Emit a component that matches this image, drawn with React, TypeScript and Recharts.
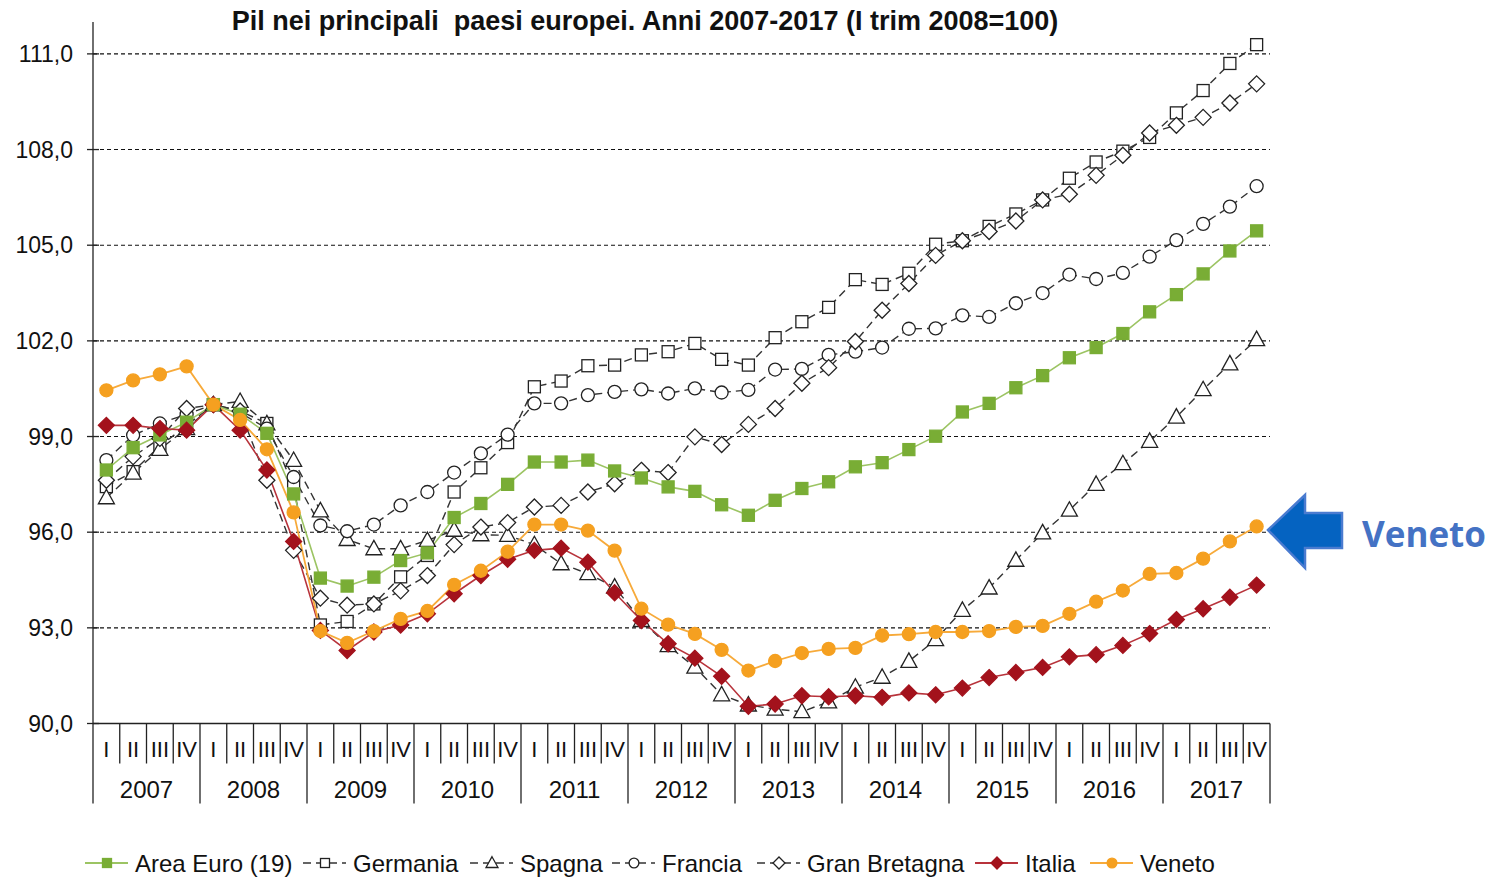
import React from "react";
import { LineChart, Line, XAxis, YAxis, CartesianGrid } from "recharts";

// Quarters 2007-I .. 2017-IV, index I trim 2008 = 100
const years = [2007, 2008, 2009, 2010, 2011, 2012, 2013, 2014, 2015, 2016, 2017];
const quarters = ["I", "II", "III", "IV"];
const yTicks = [90, 93, 96, 99, 102, 105, 108, 111];

const areaEuro = [
  97.95, 98.65, 99.05, 99.45, 100, 99.7, 99.1, 97.2, 94.56, 94.31, 94.59,
  95.11, 95.35, 96.46, 96.9, 97.5, 98.2, 98.2, 98.26, 97.92, 97.7, 97.42,
  97.28, 96.86, 96.53, 97.0, 97.37, 97.58, 98.05, 98.18, 98.59, 99.01, 99.77,
  100.04, 100.53, 100.91, 101.47, 101.79, 102.23, 102.91, 103.45, 104.1,
  104.82, 105.45,
];
const germania = [
  97.43, 97.9, 98.7, 99.35, 100, 99.8, 99.41, 97.43, 93.09, 93.2, 93.75, 94.6,
  95.27, 97.26, 98.02, 98.81, 100.56, 100.74, 101.22, 101.24, 101.56, 101.66,
  101.92, 101.42, 101.24, 102.1, 102.6, 103.05, 103.92, 103.77, 104.12,
  105.03, 105.14, 105.59, 105.98, 106.42, 107.1, 107.61, 107.95, 108.38,
  109.15, 109.85, 110.7, 111.29,
];
const spagna = [
  97.08, 97.85, 98.6, 99.25, 100, 100.1, 99.4, 98.25, 96.67, 95.77, 95.48,
  95.48, 95.74, 96.06, 95.92, 95.9, 95.61, 95.01, 94.7, 94.28, 93.23, 92.44,
  91.77, 90.9, 90.58, 90.45, 90.37, 90.68, 91.14, 91.45, 91.95, 92.63, 93.55,
  94.25, 95.12, 95.98, 96.69, 97.5, 98.15, 98.85, 99.61, 100.47, 101.28,
  102.04,
];
const francia = [
  98.26, 99.04, 99.41, 99.7, 100, 99.75, 99.25, 97.73, 96.21, 96.03, 96.24,
  96.84, 97.26, 97.87, 98.47, 99.06, 100.04, 100.04, 100.3, 100.4, 100.48,
  100.35, 100.51, 100.38, 100.46, 101.1, 101.12, 101.56, 101.66, 101.79,
  102.38, 102.39, 102.8, 102.75, 103.18, 103.5, 104.08, 103.94, 104.13,
  104.64, 105.16, 105.67, 106.21, 106.85,
];
const granBretagna = [
  97.63, 98.37, 98.94, 99.88, 100, 99.8, 97.63, 95.43, 93.93, 93.71, 93.75,
  94.16, 94.64, 95.61, 96.16, 96.3, 96.79, 96.84, 97.26, 97.52, 97.94, 97.87,
  98.99, 98.75, 99.38, 99.88, 100.67, 101.16, 101.98, 102.96, 103.8, 104.68,
  105.14, 105.43, 105.76, 106.42, 106.6, 107.19, 107.82, 108.52, 108.76,
  109.01, 109.46, 110.06,
];
const italia = [
  99.35, 99.35, 99.25, 99.2, 100, 99.2, 97.95, 95.71, 92.92, 92.29, 92.87,
  93.09, 93.44, 94.07, 94.64, 95.15, 95.43, 95.5, 95.06, 94.1, 93.23, 92.5,
  92.05, 91.48, 90.54, 90.61, 90.87, 90.84, 90.87, 90.82, 90.96, 90.9, 91.11,
  91.44, 91.6, 91.76, 92.09, 92.16, 92.45, 92.82, 93.26, 93.6, 93.96, 94.34,
];
const veneto = [
  100.45, 100.76, 100.95, 101.2, 100, 99.52, 98.6, 96.62, 92.9, 92.53, 92.9,
  93.28, 93.53, 94.35, 94.79, 95.39, 96.24, 96.24, 96.05, 95.42, 93.6, 93.1,
  92.81, 92.31, 91.66, 91.96, 92.21, 92.34, 92.37, 92.76, 92.8, 92.87, 92.87,
  92.9, 93.03, 93.06, 93.44, 93.82, 94.17, 94.69, 94.72, 95.17, 95.71, 96.18,
];

const rows = years.flatMap((year, yi) =>
  quarters.map((q, qi) => {
    const i = yi * 4 + qi;
    return {
      key: `${q} ${year}`,
      q,
      qi,
      year,
      areaEuro: areaEuro[i],
      germania: germania[i],
      spagna: spagna[i],
      francia: francia[i],
      granBretagna: granBretagna[i],
      italia: italia[i],
      veneto: veneto[i],
    };
  })
);

type Shape = "square" | "circle" | "triangle" | "diamond";

interface SeriesStyle {
  key: string;
  name: string;
  shape: Shape;
  stroke: string;
  markFill: string;
  markStroke: string;
  size: number;
  width: number;
  dashed: boolean;
}

// drawing order: dashed black series first, coloured on top
const series: SeriesStyle[] = [
  { key: "germania", name: "Germania", shape: "square", stroke: "#333", markFill: "#fff", markStroke: "#222", size: 12, width: 1.4, dashed: true },
  { key: "spagna", name: "Spagna", shape: "triangle", stroke: "#333", markFill: "#fff", markStroke: "#222", size: 16, width: 1.4, dashed: true },
  { key: "francia", name: "Francia", shape: "circle", stroke: "#333", markFill: "#fff", markStroke: "#222", size: 13, width: 1.4, dashed: true },
  { key: "granBretagna", name: "Gran Bretagna", shape: "diamond", stroke: "#333", markFill: "#fff", markStroke: "#222", size: 16, width: 1.4, dashed: true },
  { key: "areaEuro", name: "Area Euro (19)", shape: "square", stroke: "#9cc463", markFill: "#79ad35", markStroke: "#79ad35", size: 12, width: 1.6, dashed: false },
  { key: "italia", name: "Italia", shape: "diamond", stroke: "#b8333b", markFill: "#a3121c", markStroke: "#a3121c", size: 16, width: 1.6, dashed: false },
  { key: "veneto", name: "Veneto", shape: "circle", stroke: "#f7aa3a", markFill: "#f5a020", markStroke: "#f5a020", size: 13, width: 1.8, dashed: false },
];

const legendOrder = ["areaEuro", "germania", "spagna", "francia", "granBretagna", "italia", "veneto"];
const legendX = [85, 303, 470, 612, 757, 975, 1090];

const W = 1498;
const H = 880;
const PLOT_LEFT = 93;
const PLOT_RIGHT = 1270;
const PLOT_TOP = 22;
const PLOT_BOTTOM = 723.5;
const Y_AXIS_W = 85;
const X_AXIS_H = 80;
const HALF = (PLOT_RIGHT - PLOT_LEFT) / (rows.length * 2);
const FONT = "'Liberation Sans', Arial, sans-serif";

function Marker({ shape, cx, cy, size, fill, stroke }: { shape: Shape; cx: number; cy: number; size: number; fill: string; stroke: string }) {
  const s = size / 2;
  if (shape === "square")
    return <rect x={cx - s} y={cy - s} width={size} height={size} fill={fill} stroke={stroke} strokeWidth={1.3} />;
  if (shape === "circle") return <circle cx={cx} cy={cy} r={s} fill={fill} stroke={stroke} strokeWidth={1.3} />;
  if (shape === "triangle")
    return (
      <polygon
        points={`${cx},${cy - s * 1.05} ${cx + s},${cy + s * 0.75} ${cx - s},${cy + s * 0.75}`}
        fill={fill}
        stroke={stroke}
        strokeWidth={1.3}
      />
    );
  return (
    <polygon points={`${cx},${cy - s} ${cx + s},${cy} ${cx},${cy + s} ${cx - s},${cy}`} fill={fill} stroke={stroke} strokeWidth={1.3} />
  );
}

const QuarterTick = (props: any) => {
  const { x, y, index } = props;
  const row = rows[index];
  if (!row) return null;
  const yearEnd = row.qi === 3;
  return (
    <g>
      <text x={x} y={y + 33} textAnchor="middle" fontSize={22} fontFamily={FONT} fill="#111">
        {row.q}
      </text>
      {index === 0 && <line x1={x - HALF} x2={x - HALF} y1={y} y2={y + 80} stroke="#222" strokeWidth={1.3} />}
      <line x1={x + HALF} x2={x + HALF} y1={y} y2={yearEnd ? y + 80 : y + 40} stroke="#222" strokeWidth={1.3} />
      {row.qi === 1 && (
        <text x={x + HALF} y={y + 74} textAnchor="middle" fontSize={24} fontFamily={FONT} fill="#111">
          {row.year}
        </text>
      )}
    </g>
  );
};

const ValueTick = (props: any) => {
  const { x, y, payload } = props;
  return (
    <g>
      <text x={x} y={y + 8} textAnchor="end" fontSize={23} fontFamily={FONT} fill="#111">
        {Number(payload.value).toFixed(1).replace(".", ",")}
      </text>
      <line x1={x + 14} x2={x + 26} y1={y} y2={y} stroke="#222" strokeWidth={1.3} />
    </g>
  );
};

function Overlay() {
  return (
    <svg width={W} height={H} style={{ position: "absolute", left: 0, top: 0, pointerEvents: "none" }}>
      <text
        x={645}
        y={30}
        textAnchor="middle"
        fontSize={27}
        fontWeight="bold"
        fontFamily={FONT}
        fill="#111"
        style={{ whiteSpace: "pre" }}
      >
        {"Pil nei principali  paesi europei. Anni 2007-2017 (I trim 2008=100)"}
      </text>

      {legendOrder.map((k, i) => {
        const s = series.find((d) => d.key === k)!;
        const x0 = legendX[i];
        const cy = 863;
        return (
          <g key={k}>
            <line
              x1={x0}
              x2={x0 + 43}
              y1={cy}
              y2={cy}
              stroke={s.dashed ? "#333" : s.stroke}
              strokeWidth={s.dashed ? 1.3 : 2}
              strokeDasharray={s.dashed ? "8 5" : undefined}
            />
            <Marker shape={s.shape} cx={x0 + 22} cy={cy} size={s.size * 0.75} fill={s.markFill} stroke={s.markStroke} />
            <text x={x0 + 50} y={cy + 9} fontSize={24} fontFamily={FONT} fill="#111">
              {s.name}
            </text>
          </g>
        );
      })}

      <polygon
        points="1268,530 1305,495 1305,513 1342,513 1342,548 1305,548 1305,568"
        fill="#0563c1"
        stroke="#4a7bd0"
        strokeWidth={2.5}
        strokeLinejoin="miter"
      />
      <text x={1362} y={547} fontSize={35} fontWeight="bold" fontFamily="'Open Sans', Lato, sans-serif" fill="#4472c4">
        Veneto
      </text>
    </svg>
  );
}

export default function App() {
  return (
    <div style={{ position: "absolute", left: 0, top: 0, width: W, height: H, background: "#fff" }}>
      <LineChart
        width={W}
        height={H}
        data={rows}
        margin={{
          top: PLOT_TOP,
          left: PLOT_LEFT - Y_AXIS_W,
          right: W - PLOT_RIGHT,
          bottom: H - PLOT_BOTTOM - X_AXIS_H,
        }}
      >
        <CartesianGrid
          vertical={false}
          horizontalValues={yTicks.filter((t) => t > 90)}
          stroke="#111"
          strokeDasharray="4 3"
          strokeWidth={1.1}
        />
        <XAxis
          dataKey="key"
          interval={0}
          height={X_AXIS_H}
          padding={{ left: HALF, right: HALF }}
          axisLine={{ stroke: "#222", strokeWidth: 1.3 }}
          tickLine={false}
          tickSize={0}
          tickMargin={0}
          tick={<QuarterTick />}
        />
        <YAxis
          width={Y_AXIS_W}
          domain={[90, 112]}
          ticks={yTicks}
          interval={0}
          axisLine={{ stroke: "#222", strokeWidth: 1.3 }}
          tickLine={false}
          tickSize={6}
          tickMargin={14}
          tick={<ValueTick />}
        />
        {series.map((s) => (
          <Line
            key={s.key}
            dataKey={s.key}
            name={s.name}
            type="linear"
            stroke={s.stroke}
            strokeWidth={s.width}
            strokeDasharray={s.dashed ? "8 5" : undefined}
            isAnimationActive={false}
            dot={(p: any) => (
              <Marker
                key={`${s.key}-${p.index}`}
                shape={s.shape}
                cx={p.cx}
                cy={p.cy}
                size={s.size}
                fill={s.markFill}
                stroke={s.markStroke}
              />
            )}
            activeDot={false}
          />
        ))}
      </LineChart>
      <Overlay />
    </div>
  );
}
